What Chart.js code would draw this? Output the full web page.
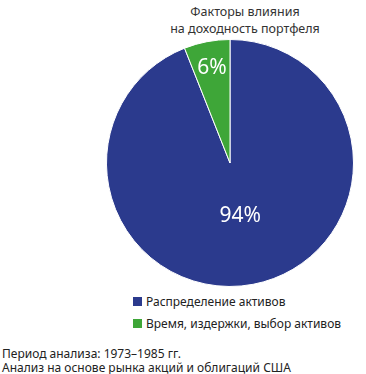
<!DOCTYPE html>
<html><head><meta charset="utf-8">
<script src="https://cdn.jsdelivr.net/npm/chart.js@4/dist/chart.umd.min.js"></script>
<style>
html,body{margin:0;padding:0;background:#fff;}
body{width:366px;height:374px;position:relative;overflow:hidden;font-family:"Noto Sans",sans-serif;color:#222;}
#wrap{position:absolute;left:106px;top:39px;width:248px;height:248px;}
.title{position:absolute;left:145px;width:200px;top:3px;text-align:center;font-size:12.5px;line-height:17px;color:#333;white-space:nowrap;z-index:2;}
.legend{position:absolute;left:133px;top:293px;font-size:12px;}
.legend div{height:22px;line-height:17px;white-space:nowrap;}
.legend span.sw{display:inline-block;width:9px;height:9px;margin-right:4px;vertical-align:0px;}
.foot{position:absolute;left:2px;top:347px;font-size:12px;line-height:14px;white-space:nowrap;}
</style></head>
<body>
<div id="wrap"><canvas id="c"></canvas></div>
<div class="title" id="title"></div>
<div class="legend" id="legend"></div>
<div class="foot" id="foot"></div>
<script>
const titleLines = ["Факторы влияния", "на доходность портфеля"];
const categories = ["Распределение активов", "Время, издержки, выбор активов"];
const values = [94, 6];
const valueLabels = ["94%", "6%"];
const colors = ["#2b3a8d", "#3ea638"];
const labelRadius = [0.44, 0.78];
const footLines = ["Период анализа: 1973–1985 гг.", "Анализ на основе рынка акций и облигаций США"];

document.getElementById('title').innerHTML = titleLines.join('<br>');
document.getElementById('foot').innerHTML = footLines.join('<br>');
const lg = document.getElementById('legend');
categories.forEach((c,i)=>{
  const d=document.createElement('div');
  const s=document.createElement('span'); s.className='sw'; s.style.background=colors[i];
  d.appendChild(s); d.appendChild(document.createTextNode(c)); lg.appendChild(d);
});

const labelPlugin = {
  id:'sliceLabels',
  afterDatasetsDraw(chart){
    const ctx=chart.ctx; const meta=chart.getDatasetMeta(0);
    ctx.save();
    ctx.fillStyle='#fff'; ctx.font='21px "Noto Sans", sans-serif';
    ctx.textAlign='center'; ctx.textBaseline='middle';
    meta.data.forEach((arc,i)=>{
      const p=arc.getProps(['x','y','startAngle','endAngle','outerRadius'],true);
      const a=(p.startAngle+p.endAngle)/2; const r=p.outerRadius*labelRadius[i];
      ctx.fillText(valueLabels[i], p.x+Math.cos(a)*r, p.y+Math.sin(a)*r);
    });
    ctx.restore();
  }
};

new Chart(document.getElementById('c'),{
  type:'pie',
  data:{labels:categories,datasets:[{data:values,backgroundColor:colors,borderColor:'#fff',borderWidth:1}]},
  options:{responsive:true,maintainAspectRatio:false,animation:false,
    layout:{padding:0},
    plugins:{legend:{display:false},tooltip:{enabled:false}}},
  plugins:[labelPlugin]
});
</script>
</body></html>
